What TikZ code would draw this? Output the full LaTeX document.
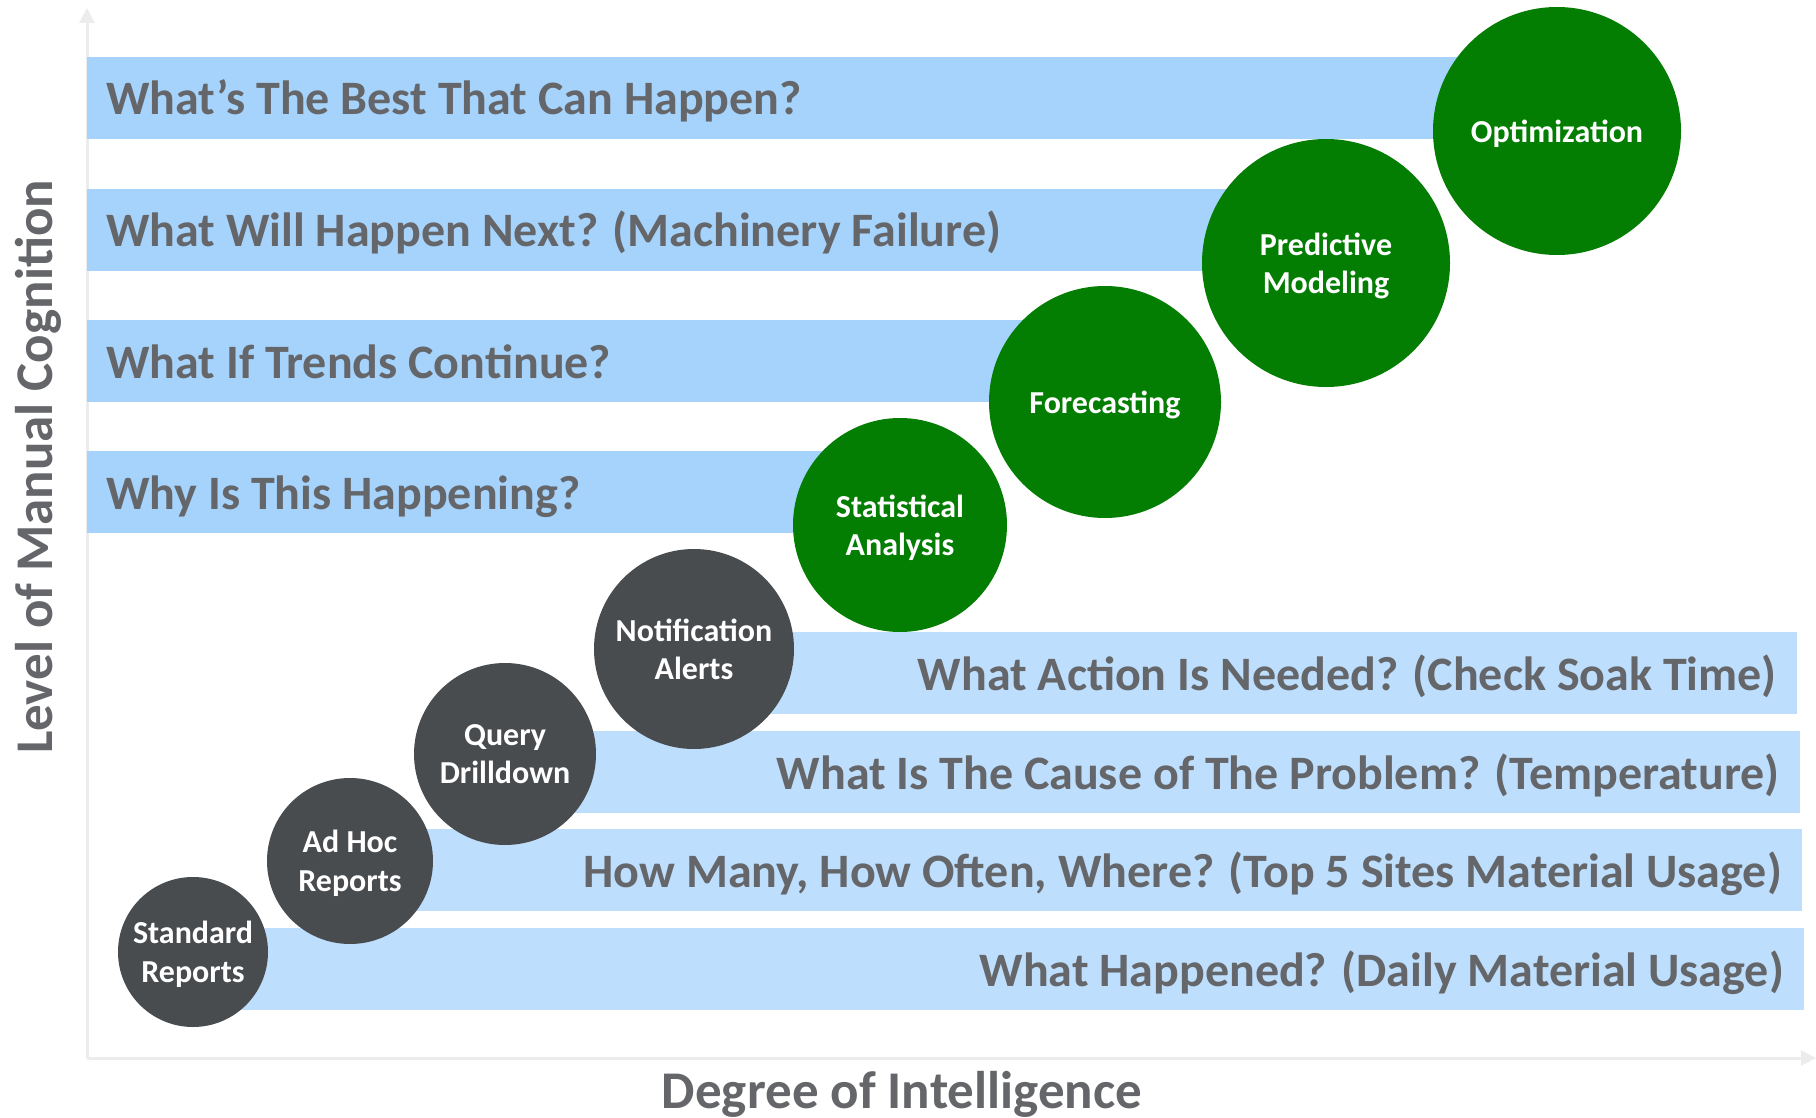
\documentclass[tikz,border=0pt]{standalone}
\usepackage{fontspec}
\setmainfont{Carlito}
\usetikzlibrary{
    arrows.meta,
    positioning
}

\definecolor{askbar}{RGB}{166,211,252}
\definecolor{seenbar}{RGB}{189,222,253}
\definecolor{ballgreen}{RGB}{3,126,3}
\definecolor{ballgrey}{RGB}{73,76,79}
\definecolor{labelgrey}{RGB}{100,102,106}
\definecolor{axisgrey}{RGB}{236,236,236}

\tikzset{
    axisline/.style={draw=axisgrey, line width=3pt, -{Triangle[width=15pt,length=15pt]}},
    bartext/.style={text=labelgrey, font=\fontsize{48}{52}\selectfont\bfseries, inner sep=0pt},
    axistext/.style={text=labelgrey, font=\fontsize{53}{58}\selectfont\bfseries, inner sep=0pt},
    ball/.style={circle, inner sep=0pt, text=white, align=center, text depth=0pt,
        font=\fontsize{32}{38.5}\selectfont\bfseries},
    greyball/.style={ball, fill=ballgrey},
    greenball/.style={ball, fill=ballgreen}
}

\begin{document}
\begin{tikzpicture}[x=1pt, y=-1pt]
    \useasboundingbox (0, 0) rectangle (1816, 1118);

    % axes
    \coordinate (origin) at (87, 1058);
    \coordinate (ytop) at (87, 8);
    \coordinate (xend) at (1816, 1058);
    \draw[axisline] (origin) -- (ytop);
    \draw[axisline] (origin) -- (xend);

    % upper bars, text on the left
    \foreach \top/\rgt/\txt in {
        57/1557/{What’s The Best That Can Happen?},
        189/1326/{What Will Happen Next? (Machinery Failure)},
        320/1105/{What If Trends Continue?},
        451/900/{Why Is This Happening?}} {
        \fill[askbar] (87, \top) rectangle (\rgt, \top + 82);
        \node[bartext, anchor=base west] at (106, \top + 58) {\txt};
    }

    % lower bars, text on the right
    \foreach \top/\lft/\rgt/\txt in {
        632/694/1797/{What Action Is Needed? (Check Soak Time)},
        731/505/1800/{What Is The Cause of The Problem? (Temperature)},
        829/350/1802/{How Many, How Often, Where? (Top 5 Sites Material Usage)},
        928/193/1804/{What Happened? (Daily Material Usage)}} {
        \fill[seenbar] (\lft, \top) rectangle (\rgt, \top + 82);
        \node[bartext, anchor=base east] at (\rgt - 20, \top + 58) {\txt};
    }

    % circles
    \node[greyball, minimum size=150] (standard) at (193, 952) {Standard\\Reports};
    \node[greyball, minimum size=166] (adhoc) at (350, 861) {Ad Hoc\\Reports};
    \node[greyball, minimum size=182] (query) at (505, 754) {Query\\Drilldown};
    \node[greyball, minimum size=200] (alerts) at (694, 649) {Notification\\Alerts};
    \node[greenball, minimum size=214] (stats) at (900, 525) {Statistical\\Analysis};
    \node[greenball, minimum size=232] (forecast) at (1105, 402) {Forecasting};
    \node[greenball, minimum size=248] (predict) at (1326, 263) {Predictive\\Modeling};
    \node[greenball, minimum size=248] (optim) at (1557, 131) {Optimization};

    % axis labels
    \node[axistext, rotate=90, anchor=base] (ylabel) at (52, 467) {Level of Manual Cognition};
    \node[axistext, anchor=base] (xlabel) at (902, 1108) {Degree of Intelligence};
\end{tikzpicture}
\end{document}
